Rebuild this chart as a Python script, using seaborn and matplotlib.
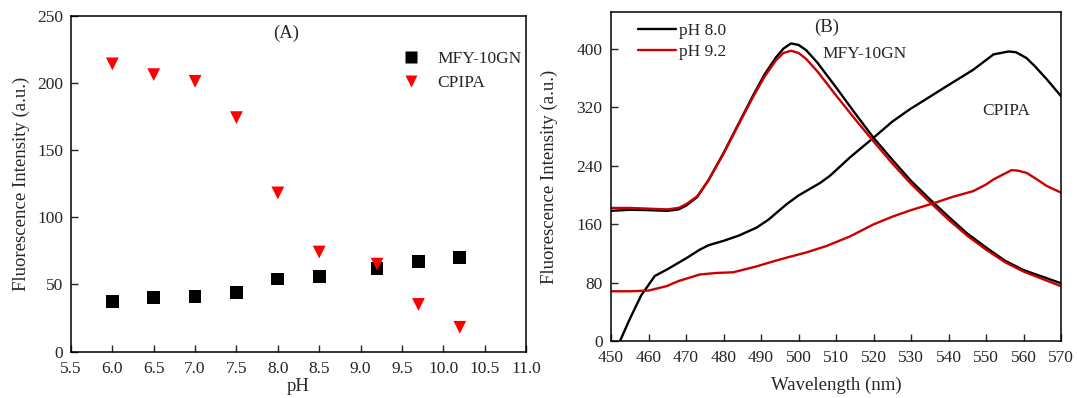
import matplotlib
matplotlib.use("Agg")
import matplotlib.pyplot as plt
import seaborn as sns
import pandas as pd
import numpy as np

sns.set_theme(style="white")
plt.rcParams['font.family'] = ['Liberation Serif', 'DejaVu Serif']

# ---- Panel A data ----
ph = [6.0, 6.5, 7.0, 7.5, 8.0, 8.5, 9.2, 9.7, 10.2]
mfy_int = [37, 40, 41, 44, 54, 56, 62, 67, 70]
cpipa_int = [214, 206, 201, 174, 118, 74, 65, 35, 18]

# ---- Panel B data ----
wl_mfy = [450, 455, 460, 465, 468, 470, 473, 476, 480, 484, 488, 491, 494, 496, 498,
          500, 502, 505, 510, 515, 520, 525, 530, 535, 540, 545, 550, 555, 560, 565, 570]
mfy_ph80 = [178, 179.5, 179, 178, 180, 185, 197, 220, 257, 297, 337, 365, 388, 400, 407,
            405, 398, 381, 347, 312, 278, 248, 219, 194, 170, 147, 128, 110, 97, 88, 79]
mfy_ph92 = [182, 182, 181, 180, 182, 187, 198, 220, 256, 296, 335, 362, 384, 394, 397,
            394, 386, 369, 336, 304, 273, 243, 215, 190, 166, 144, 125, 108, 95, 85, 75]

wl_cp80 = [452.4, 455, 458, 461.7, 465, 470, 473.7, 476, 480, 484, 488.8, 492, 496.8, 500,
           505.7, 508.4, 513.7, 520, 525, 529.7, 535, 539.5, 546.6, 552, 556, 558, 560.8, 563,
           566.2, 570]
cp_ph80 = [0, 30, 62, 89, 98, 113, 125, 131, 137, 144, 155, 166, 187, 199,
           216, 226, 251, 278, 300, 317, 334, 348.5, 371, 392, 396, 395, 387, 376,
           358, 335]

wl_cp92 = [450, 455, 460, 464.8, 468, 473.7, 478, 482.6, 488.8, 492, 496.8, 502, 507.5,
           513.7, 520, 525, 530, 536.4, 541, 546.6, 550, 552, 556.8, 558.5, 560.8, 563,
           566.2, 570]
cp_ph92 = [68, 68, 69, 75, 82, 91, 93, 94, 102, 107, 114, 121, 130,
           143, 159.5, 170, 179, 189, 197, 205, 214, 221, 233.7, 233, 230, 223,
           212, 203]

fig = plt.figure(figsize=(10.77, 3.98), dpi=100)
axA = fig.add_axes([71/1077, (398-351.5)/398, 455/1077, 336/398])
axB = fig.add_axes([611/1077, (398-341)/398, 450/1077, 329/398])

tfs = 12.5
lfs = 13.5

# Panel A
dfA = pd.DataFrame({"pH": ph * 2,
                    "I": mfy_int + cpipa_int,
                    "s": ["MFY-10GN"] * len(ph) + ["CPIPA"] * len(ph)})
sns.scatterplot(data=dfA, x="pH", y="I", hue="s", style="s",
                palette={"MFY-10GN": "black", "CPIPA": "#ff0000"},
                markers={"MFY-10GN": "s", "CPIPA": "v"},
                s=85, edgecolor="none", ax=axA, legend=True)
axA.set_xlim(5.5, 11.0)
axA.set_ylim(0, 250)
axA.set_xticks(np.arange(5.5, 11.01, 0.5))
axA.set_xticklabels([f"{v:.1f}" for v in np.arange(5.5, 11.01, 0.5)])
axA.set_yticks([0, 50, 100, 150, 200, 250])
axA.set_xlabel("pH", fontsize=lfs, labelpad=1)
axA.set_ylabel("Fluorescence Intensity (a.u.)", fontsize=lfs, labelpad=5)
axA.tick_params(axis="x", direction="in", length=5, width=1.0, labelsize=tfs,
                bottom=True, pad=6.5)
axA.tick_params(axis="y", direction="in", length=5, width=1.0, labelsize=tfs,
                left=True, pad=5.5)
axA.text(8.1, 237, "(A)", fontsize=13.5, ha="center", va="center")
legA = axA.legend(loc="upper right", bbox_to_anchor=(1.025, 0.94), frameon=False,
                  fontsize=tfs, handletextpad=0.5, labelspacing=0.45, markerscale=1.0)
for sp in axA.spines.values():
    sp.set_color("black"); sp.set_linewidth(1.1)

# Panel B
dfB = pd.concat([
    pd.DataFrame({"wl": wl_mfy, "I": mfy_ph80, "pH": "pH 8.0", "dye": "MFY"}),
    pd.DataFrame({"wl": wl_mfy, "I": mfy_ph92, "pH": "pH 9.2", "dye": "MFY"}),
    pd.DataFrame({"wl": wl_cp80, "I": cp_ph80, "pH": "pH 8.0", "dye": "CP"}),
    pd.DataFrame({"wl": wl_cp92, "I": cp_ph92, "pH": "pH 9.2", "dye": "CP"}),
])
sns.lineplot(data=dfB, x="wl", y="I", hue="pH", units="dye", estimator=None,
             palette={"pH 8.0": "black", "pH 9.2": "#cc0000"}, linewidth=1.7,
             ax=axB, legend=True)
axB.set_xlim(450, 570)
axB.set_ylim(0, 450)
axB.set_xticks(np.arange(450, 571, 10))
axB.set_yticks([0, 80, 160, 240, 320, 400])
axB.set_xlabel("Wavelength (nm)", fontsize=lfs, labelpad=8)
axB.set_ylabel("Fluorescence Intensity (a.u.)", fontsize=lfs, labelpad=13)
axB.tick_params(axis="x", direction="in", length=5, width=1.0, labelsize=tfs,
                bottom=True, pad=6.5)
axB.tick_params(axis="y", direction="in", length=5, width=1.0, labelsize=tfs,
                left=True, pad=6)
axB.text(507.5, 429, "(B)", fontsize=13.5, ha="center", va="center")
axB.text(506.5, 393, "MFY-10GN", fontsize=tfs, ha="left", va="center")
axB.text(549, 315, "CPIPA", fontsize=tfs, ha="left", va="center")
legB = axB.legend(loc="upper left", bbox_to_anchor=(0.025, 1.015), frameon=False,
                  fontsize=tfs, handlelength=2.2, handletextpad=0.15, labelspacing=0.3)
for sp in axB.spines.values():
    sp.set_color("black"); sp.set_linewidth(1.1)

fig.savefig("out.png", dpi=100)
